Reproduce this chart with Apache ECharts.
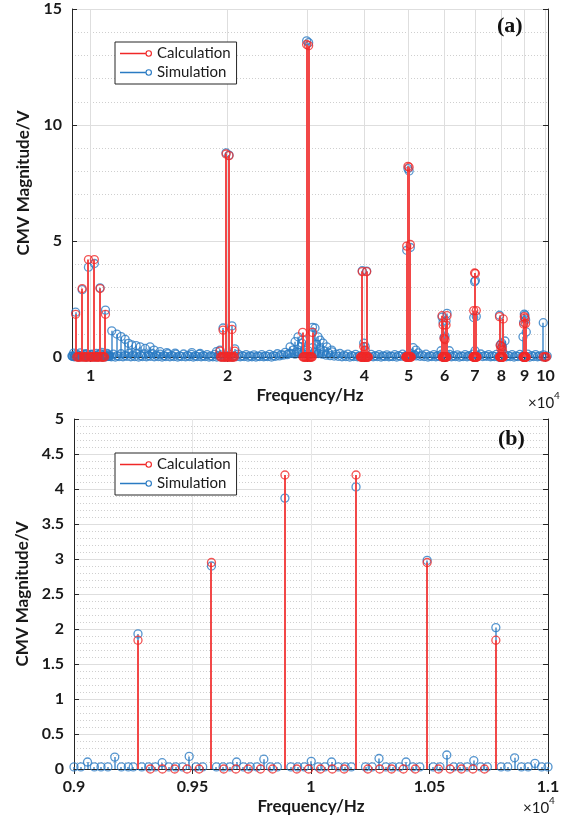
<!DOCTYPE html>
<html>
<head>
<meta charset="utf-8">
<script src="https://cdn.jsdelivr.net/npm/echarts@6/dist/echarts.min.js"></script>
<style>
html, body { margin: 0; padding: 0; background: #fff; }
#chart { width: 570px; height: 819px; }
</style>
</head>
<body>
<div id="chart"></div>
<script>
// tick positions
var harmonicTicks = [10000, 20000, 30000, 40000, 50000, 60000, 70000, 80000, 90000, 100000];
var zoomTicks = [9000, 9500, 10000, 10500, 11000];

// around the switching frequency (panel b, also part of panel a)
var calcZoom = [
    [9270, 1.84], [9322, 0], [9373, 0], [9425, 0], [9477, 0], [9528, 0],
    [9580, 2.95], [9632, 0], [9683, 0], [9735, 0], [9787, 0], [9838, 0],
    [9890, 4.20], [9940, 0], [9990, 0], [10040, 0], [10090, 0], [10140, 0],
    [10190, 4.20], [10240, 0], [10290, 0], [10340, 0], [10390, 0], [10440, 0],
    [10490, 2.95], [10538, 0], [10587, 0], [10635, 0], [10683, 0], [10732, 0],
    [10780, 1.84]
];
var simZoom = [
    [9000, 0.03], [9029, 0.03], [9057, 0.10], [9086, 0.03], [9114, 0.03], [9143, 0.03],
    [9172, 0.17], [9200, 0.03], [9229, 0.03], [9250, 0.03], [9270, 1.93],
    [9286, 0.03], [9315, 0.03], [9343, 0.03], [9372, 0.09], [9400, 0.03], [9429, 0.03],
    [9458, 0.03], [9486, 0.18], [9515, 0.03], [9543, 0.03], [9580, 2.90],
    [9601, 0.03], [9629, 0.03], [9658, 0.03], [9686, 0.10], [9715, 0.03], [9744, 0.03],
    [9772, 0.03], [9801, 0.14], [9829, 0.03], [9858, 0.03], [9890, 3.87],
    [9915, 0.03], [9944, 0.03], [9972, 0.03], [10001, 0.11], [10030, 0.03], [10058, 0.03],
    [10087, 0.10], [10115, 0.03], [10144, 0.03], [10170, 0.03], [10190, 4.03],
    [10230, 0.03], [10258, 0.03], [10287, 0.15], [10316, 0.03], [10344, 0.03], [10373, 0.03],
    [10401, 0.10], [10430, 0.03], [10459, 0.03], [10490, 2.98],
    [10516, 0.03], [10544, 0.03], [10573, 0.20], [10602, 0.03], [10630, 0.03], [10659, 0.03],
    [10687, 0.12], [10716, 0.03], [10744, 0.03], [10780, 2.02],
    [10802, 0.03], [10830, 0.03], [10859, 0.16], [10888, 0.03], [10916, 0.03], [10945, 0.08],
    [10973, 0.03], [11000, 0.03]
];

// higher harmonic clusters (panel a)
var calcHarmonics = [
    [19250, 0.25], [19550, 1.16], [19850, 8.75], [20150, 8.68], [20450, 1.19], [20750, 0.25],
    [29250, 1.06], [29850, 13.47], [30150, 13.42], [30750, 1.06],
    [39550, 3.68], [39850, 0.45], [40150, 0.30], [40450, 3.68],
    [49550, 4.78], [49850, 8.22], [50150, 8.18], [50450, 4.85],
    [59250, 1.78], [59550, 1.38], [59850, 0.80], [60150, 0.75], [60450, 1.38], [60750, 1.78],
    [69550, 2.00], [69850, 3.62], [70150, 3.60], [70450, 2.00],
    [79250, 1.74], [79550, 0.50], [79850, 0.35], [80150, 0.45], [80450, 0.30], [80750, 1.64],
    [89550, 1.42], [89850, 1.74], [90150, 1.68], [90450, 1.45]
];
var calcZeroFreq = [
    19300, 19400, 19500, 19600, 19700, 19800, 19900, 20000, 20100, 20200, 20300, 20400, 20500, 20600, 20700,
    29300, 29400, 29500, 29600, 29700, 29800, 29900, 30000, 30100, 30200, 30300, 30400, 30500, 30600, 30700,
    39200, 39300, 39400, 39500, 39600, 39700, 39800, 39900, 40000, 40100, 40200, 40300, 40400, 40500, 40600, 40700, 40800,
    49300, 49400, 49500, 49600, 49700, 49800, 49900, 50000, 50100, 50200, 50300, 50400, 50500, 50600, 50700,
    59300, 59400, 59500, 59600, 59700, 59800, 59900, 60000, 60100, 60200, 60300, 60400, 60500, 60600, 60700,
    69300, 69400, 69500, 69600, 69700, 69800, 69900, 70000, 70100, 70200, 70300, 70400, 70500, 70600, 70700,
    79300, 79400, 79500, 79600, 79700, 79800, 79900, 80000, 80100, 80200, 80300, 80400, 80500, 80600, 80700,
    89300, 89400, 89500, 89600, 89700, 89800, 89900, 90000, 90100, 90200, 90300, 90400, 90500, 90600, 90700,
    98900, 99500, 100000, 100500
];
var simHarmonics = [
    [19250, 0.30], [19550, 1.25], [19850, 8.80], [20150, 8.70], [20450, 1.34], [20750, 0.35],
    [27450, 0.44], [28150, 0.66], [28580, 0.87], [29120, 0.60], [29250, 0.75],
    [29850, 13.63], [30150, 13.55], [30750, 1.28], [31140, 1.25], [31620, 0.87],
    [31950, 0.73], [32430, 0.60], [33050, 0.44], [33890, 0.30],
    [39550, 3.72], [39850, 0.60], [40150, 0.45], [40450, 3.70],
    [49550, 4.60], [49850, 8.12], [50150, 8.02], [50450, 4.72], [51200, 0.40], [51900, 0.30],
    [58930, 0.27], [59250, 1.72], [59550, 1.50], [59850, 0.85], [60150, 0.90], [60450, 1.55],
    [60750, 1.88], [61470, 0.27],
    [69550, 1.70], [69850, 3.25], [70150, 3.30], [70450, 1.75], [70000, 0.27],
    [79250, 1.80], [79550, 0.52], [80150, 0.60], [80450, 0.45], [81470, 0.69],
    [89250, 0.87], [89550, 1.50], [89850, 1.85], [90150, 1.80], [90450, 1.60], [90750, 1.08],
    [98900, 1.48]
];
var simTail = [
    [11130, 1.13], [11420, 0.99], [11670, 0.88], [11910, 0.76], [12110, 0.59], [12320, 0.52],
    [12590, 0.49], [12850, 0.44], [13180, 0.37], [13510, 0.44], [13790, 0.30], [14210, 0.23],
    [14710, 0.19], [15340, 0.17], [16690, 0.19], [17410, 0.15], [18900, 0.23]
];
var simFloor = [
    [9100, 0.05], [9300, 0.12], [9500, 0.06], [9700, 0.13], [9900, 0.07], [10100, 0.12],
    [10300, 0.05], [10500, 0.14], [10700, 0.06], [10900, 0.12],
    [11000, 0.05], [11220, 0.12], [11440, 0.06], [11670, 0.14], [11900, 0.07], [12140, 0.16],
    [12380, 0.08], [12630, 0.15], [12880, 0.06], [13140, 0.13], [13400, 0.07], [13670, 0.15],
    [13940, 0.08], [14220, 0.12], [14500, 0.06], [14790, 0.14], [15090, 0.07], [15390, 0.12],
    [15700, 0.05], [16010, 0.13], [16330, 0.07], [16660, 0.11], [16990, 0.05], [17330, 0.12],
    [17680, 0.06], [18030, 0.10], [18390, 0.05], [18760, 0.11], [19130, 0.06], [19510, 0.09],
    [19900, 0.04], [20300, 0.10], [20710, 0.05], [21120, 0.12], [21540, 0.06], [21970, 0.10],
    [22410, 0.05], [22860, 0.09], [23320, 0.04], [23780, 0.10], [24260, 0.05], [24740, 0.11],
    [25240, 0.06], [25740, 0.14], [26260, 0.10], [26780, 0.20], [27320, 0.15], [27870, 0.30],
    [28420, 0.22], [28990, 0.45], [29570, 0.30], [30160, 0.25], [30770, 0.40], [31380, 0.55],
    [32010, 0.35], [32650, 0.25], [33300, 0.18], [33970, 0.22], [34650, 0.12], [35340, 0.15],
    [36050, 0.08], [36770, 0.12], [37500, 0.06], [38250, 0.11], [39020, 0.05], [39800, 0.10],
    [40590, 0.04], [41400, 0.11], [42230, 0.06], [43080, 0.10], [43940, 0.05], [44820, 0.09],
    [45710, 0.04], [46630, 0.10], [47560, 0.06], [48510, 0.12], [49480, 0.07], [50470, 0.15],
    [51480, 0.10], [52510, 0.18], [53560, 0.08], [54630, 0.12], [55730, 0.05], [56840, 0.10],
    [57980, 0.06], [59140, 0.12], [60320, 0.05], [61530, 0.11], [62760, 0.06], [64010, 0.09],
    [65290, 0.04], [66600, 0.10], [67930, 0.06], [69290, 0.12], [70670, 0.08], [72090, 0.13],
    [73530, 0.06], [75000, 0.10], [76500, 0.05], [78030, 0.11], [79590, 0.07], [81180, 0.12],
    [82810, 0.06], [84470, 0.10], [86160, 0.05], [87880, 0.11], [89640, 0.07], [91430, 0.12],
    [93260, 0.06], [95120, 0.10], [97030, 0.05], [98970, 0.09], [100900, 0.04]
];
// lower edge of the noise floor band
var simFloorLow = [
    [9200, 0.01], [9400, 0.00], [9600, 0.01], [9800, 0.00], [10000, 0.01], [10200, 0.00],
    [10400, 0.01], [10600, 0.00], [10800, 0.01],
    [11110, 0.01], [11330, 0.00], [11550, 0.02], [11780, 0.01], [12020, 0.03], [12260, 0.01],
    [12500, 0.02], [12750, 0.00], [13010, 0.02], [13270, 0.01], [13530, 0.03], [13800, 0.01],
    [14080, 0.02], [14360, 0.00], [14640, 0.02], [14940, 0.01], [15240, 0.02], [15540, 0.00],
    [15850, 0.02], [16170, 0.01], [16490, 0.02], [16820, 0.00], [17160, 0.02], [17500, 0.01],
    [17850, 0.02], [18210, 0.00], [18570, 0.01], [18940, 0.00], [19320, 0.01], [19700, 0.00],
    [20100, 0.01], [20500, 0.00], [20910, 0.02], [21330, 0.01], [21750, 0.02], [22190, 0.00],
    [22630, 0.01], [23090, 0.00], [23550, 0.02], [24020, 0.01], [24500, 0.02], [24990, 0.00],
    [25490, 0.03], [26000, 0.05], [26520, 0.08], [27050, 0.10], [27590, 0.16], [28140, 0.12],
    [28700, 0.20], [29280, 0.15], [30460, 0.12], [31070, 0.20], [31690, 0.15], [32330, 0.12],
    [32970, 0.08], [33630, 0.06], [34310, 0.04], [35000, 0.03], [35700, 0.01], [36410, 0.02],
    [37140, 0.00], [37880, 0.02], [38640, 0.01], [39410, 0.02], [40200, 0.00], [41000, 0.02],
    [41820, 0.01], [42660, 0.02], [43510, 0.00], [44380, 0.02], [45270, 0.01], [46170, 0.02],
    [47090, 0.00], [48040, 0.03], [49000, 0.02], [49980, 0.04], [50980, 0.06], [52000, 0.05],
    [53040, 0.03], [54100, 0.02], [55180, 0.00], [56280, 0.02], [57410, 0.01], [58560, 0.02],
    [59730, 0.00], [60920, 0.02], [62140, 0.01], [63380, 0.02], [64650, 0.00], [65950, 0.02],
    [67260, 0.01], [68610, 0.03], [69980, 0.02], [71380, 0.04], [72810, 0.02], [74270, 0.03],
    [75750, 0.01], [77260, 0.02], [78810, 0.00], [80390, 0.02], [81990, 0.01], [83630, 0.02],
    [85310, 0.00], [87020, 0.02], [88760, 0.01], [90530, 0.02], [92340, 0.00], [94190, 0.02],
    [96080, 0.01], [98000, 0.02], [99960, 0.00]
];

var RED = '#f02828';
var RED_STEM = '#f24848';
var BLUE = '#2a7bc3';
var AXIS = '#262626';
var FONT = 'Lato';

var calcTop = calcZoom.concat(calcHarmonics, calcZeroFreq.map(function (f) { return [f, 0]; }));
var simTop = simZoom.filter(function (d) { return d[0] >= 9100; })
    .concat(simFloorLow, simFloor, simTail, simHarmonics);

var myChart = echarts.init(document.getElementById('chart'));

function stem(color, width) {
    return function (params, api) {
        var v = api.value(1);
        if (!v) return null;
        var top = api.coord([api.value(0), v]);
        var base = api.coord([api.value(0), 0]);
        var x = Math.round(top[0]);
        return {
            type: 'line',
            shape: {x1: x, y1: base[1], x2: x, y2: top[1]},
            style: {stroke: color, lineWidth: width}
        };
    };
}

function stemSeries(name, data, xi, yi, color, width, z) {
    return {
        name: name, type: 'custom', xAxisIndex: xi, yAxisIndex: yi, z: z,
        renderItem: stem(color, width), data: data, silent: true
    };
}

function dotSeries(name, data, xi, yi, color, z) {
    return {
        name: name, type: 'scatter', xAxisIndex: xi, yAxisIndex: yi, z: z,
        symbol: 'circle', symbolSize: 8, data: data, silent: true,
        itemStyle: {color: 'transparent', borderColor: color, borderWidth: 1.3}
    };
}

var labelStyle = {fontFamily: FONT, fontWeight: 'bold', fontSize: 16, color: '#1a1a1a'};
var nameStyle = {fontFamily: FONT, fontWeight: 'bold', fontSize: 17, color: '#1a1a1a'};
var gridLine = {show: true, lineStyle: {color: '#dedede', width: 1}};
var minorLine = {show: true, lineStyle: {color: '#cfcfcf', width: 1, type: [1, 2]}};

var legendIcon = 'path://M0 4L31 4L31 6L0 6Z' +
    'M39 5A4 4 0 1 0 31 5A4 4 0 1 0 39 5Z' +
    'M37.6 5A2.6 2.6 0 1 1 32.4 5A2.6 2.6 0 1 1 37.6 5Z';

function legend(top) {
    return {
        left: 115, top: top, orient: 'vertical', z: 10,
        backgroundColor: '#fff', borderColor: AXIS, borderWidth: 1,
        padding: [4, 6, 4, 5], itemGap: 4, itemWidth: 32, itemHeight: 9,
        textStyle: {fontFamily: FONT, fontSize: 15, color: '#1a1a1a'},
        data: [
            {name: 'Calculation', icon: legendIcon, itemStyle: {color: RED, borderWidth: 0}},
            {name: 'Simulation', icon: legendIcon, itemStyle: {color: BLUE, borderWidth: 0}}
        ]
    };
}

var option = {
    animation: false,
    backgroundColor: '#fff',
    grid: [
        {left: 72, top: 9, width: 476, height: 348},
        {left: 74, top: 419, width: 474, height: 350}
    ],
    legend: [legend(42), legend(453)],
    xAxis: [
        {
            type: 'log', gridIndex: 0, min: 9100, max: 101300,
            axisLine: {lineStyle: {color: AXIS}},
            axisTick: {inside: true, length: 5, customValues: harmonicTicks, lineStyle: {color: AXIS}},
            axisLabel: Object.assign({customValues: harmonicTicks, margin: 11, formatter: function (v) {
                return String(Math.round(v / 10000));
            }}, labelStyle),
            splitLine: gridLine,
            name: 'Frequency/Hz', nameLocation: 'middle', nameGap: 30, nameTextStyle: nameStyle
        },
        {
            type: 'log', gridIndex: 0, position: 'top', min: 9100, max: 101300,
            axisLine: {lineStyle: {color: AXIS}},
            axisTick: {inside: true, length: 5, customValues: harmonicTicks, lineStyle: {color: AXIS}},
            axisLabel: {show: false}, splitLine: {show: false}
        },
        {
            type: 'value', gridIndex: 1, min: 9000, max: 11000, interval: 500,
            axisLine: {lineStyle: {color: AXIS}},
            axisTick: {inside: true, length: 5, customValues: zoomTicks, lineStyle: {color: AXIS}},
            axisLabel: Object.assign({customValues: zoomTicks, margin: 10, formatter: function (v) {
                return String(parseFloat((v / 10000).toFixed(2)));
            }}, labelStyle),
            splitLine: {show: true, lineStyle: {color: '#e6e6e6'}},
            name: 'Frequency/Hz', nameLocation: 'middle', nameGap: 29, nameTextStyle: nameStyle
        },
        {
            type: 'value', gridIndex: 1, position: 'top', min: 9000, max: 11000, interval: 500,
            axisLine: {lineStyle: {color: AXIS}},
            axisTick: {inside: true, length: 5, lineStyle: {color: AXIS}},
            axisLabel: {show: false}, splitLine: {show: false}
        }
    ],
    yAxis: [
        {
            type: 'value', gridIndex: 0, min: 0, max: 15, interval: 5,
            axisLine: {show: true, lineStyle: {color: AXIS}},
            axisTick: {show: true, inside: true, length: 5, lineStyle: {color: AXIS}},
            axisLabel: Object.assign({margin: 10}, labelStyle),
            splitLine: gridLine,
            minorTick: {show: false, splitNumber: 5},
            minorSplitLine: minorLine,
            name: 'CMV Magnitude/V', nameLocation: 'middle', nameGap: 40, nameTextStyle: nameStyle
        },
        {
            type: 'value', gridIndex: 0, position: 'right', min: 0, max: 15, interval: 5,
            axisLine: {show: true, lineStyle: {color: AXIS}},
            axisTick: {show: true, inside: true, length: 5, lineStyle: {color: AXIS}},
            axisLabel: {show: false}, splitLine: {show: false}
        },
        {
            type: 'value', gridIndex: 1, min: 0, max: 5, interval: 0.5,
            axisLine: {show: true, lineStyle: {color: AXIS}},
            axisTick: {show: true, inside: true, length: 5, lineStyle: {color: AXIS}},
            axisLabel: Object.assign({margin: 10}, labelStyle),
            splitLine: gridLine,
            minorTick: {show: false, splitNumber: 5},
            minorSplitLine: minorLine,
            name: 'CMV Magnitude/V', nameLocation: 'middle', nameGap: 40, nameTextStyle: nameStyle
        },
        {
            type: 'value', gridIndex: 1, position: 'right', min: 0, max: 5, interval: 0.5,
            axisLine: {show: true, lineStyle: {color: AXIS}},
            axisTick: {show: true, inside: true, length: 5, lineStyle: {color: AXIS}},
            axisLabel: {show: false}, splitLine: {show: false}
        }
    ],
    graphic: [
        {type: 'text', left: 497, top: 15, z: 20, style: {text: '(a)', font: 'bold 22px "Liberation Serif"', fill: '#111'}},
        {type: 'text', left: 498, top: 428, z: 20, style: {text: '(b)', font: 'bold 22px "Liberation Serif"', fill: '#111'}},
        {type: 'text', left: 528, top: 396, style: {text: '×10', font: '15px Lato', fill: '#1a1a1a'}},
        {type: 'text', left: 554, top: 391, style: {text: '4', font: '10px Lato', fill: '#1a1a1a'}},
        {type: 'text', left: 523, top: 801, style: {text: '×10', font: '15px Lato', fill: '#1a1a1a'}},
        {type: 'text', left: 549, top: 796, style: {text: '4', font: '10px Lato', fill: '#1a1a1a'}}
    ],
    series: [
        stemSeries('Simulation', simTop, 0, 0, BLUE, 1.3, 2),
        dotSeries('Simulation', simTop, 0, 0, BLUE, 3),
        stemSeries('Calculation', calcTop, 0, 0, RED_STEM, 2, 4),
        dotSeries('Calculation', calcTop, 0, 0, RED, 5),
        stemSeries('Simulation', simZoom, 2, 2, BLUE, 1.3, 2),
        dotSeries('Simulation', simZoom, 2, 2, BLUE, 3),
        stemSeries('Calculation', calcZoom, 2, 2, RED_STEM, 2, 4),
        dotSeries('Calculation', calcZoom, 2, 2, RED, 5)
    ]
};

myChart.setOption(option);
</script>
</body>
</html>
